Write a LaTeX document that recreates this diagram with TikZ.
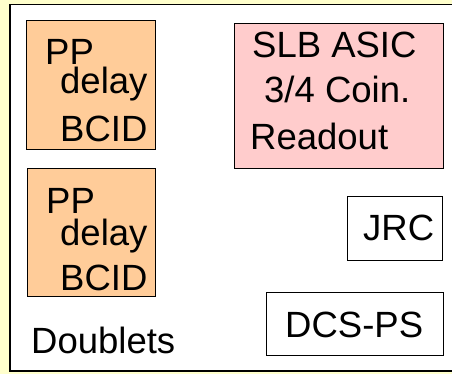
\documentclass[tikz,border=0pt]{standalone}
\usepackage{fontspec}
\setmainfont{Liberation Sans}
\definecolor{bgyellow}{HTML}{FFFFCC}
\definecolor{ppfill}{HTML}{FFCC99}
\definecolor{asicfill}{HTML}{FFCCCC}
\begin{document}
\begin{tikzpicture}[x=1pt,y=-1pt,
  panel/.style={draw=black, line width=1.6pt, fill=white},
  blockbox/.style={draw=black, line width=1.4pt, rectangle, inner sep=0pt, anchor=north west},
  lbl/.style={anchor=base west, inner sep=0pt, font=\fontsize{36.5}{40}\selectfont}]
  % background and clipped frame
  \fill[bgyellow] (0,0) rectangle (452,374);
  \useasboundingbox (0,0) rectangle (452,374);
  \begin{scope}
    \clip (0,0) rectangle (452,374);
    \draw[panel] (10,4.5) rectangle (470,371);
  \end{scope}

  % first PP block
  \node[blockbox, fill=ppfill, minimum width=129pt, minimum height=129pt] (ppa) at (26,20) {};
  \node[lbl] (ppa1) at (45,65) {PP};
  \node[lbl] (ppa2) at (60,94) {delay};
  \node[lbl] (ppa3) at (60,142) {BCID};

  % second PP block
  \node[blockbox, fill=ppfill, minimum width=128pt, minimum height=128pt] (ppb) at (27,168) {};
  \node[lbl] (ppb1) at (46,213) {PP};
  \node[lbl] (ppb2) at (60,245) {delay};
  \node[lbl] (ppb3) at (60,290) {BCID};

  \node[lbl] (dbl) at (31,353) {Doublets};

  % SLB ASIC block
  \node[blockbox, fill=asicfill, minimum width=209pt, minimum height=145pt] (asic) at (234,23) {};
  \node[lbl] (asic1) at (252,58) {SLB ASIC};
  \node[lbl] (asic2) at (264,103) {3/4 Coin.};
  \node[lbl] (asic3) at (250,150) {Readout};

  % JRC block
  \node[blockbox, fill=white, minimum width=95pt, minimum height=64pt] (jrc) at (347,196) {};
  \node[lbl] (jrc1) at (363,240) {JRC};

  % DCS-PS block
  \node[blockbox, fill=white, minimum width=177pt, minimum height=63pt] (dcs) at (266,292) {};
  \node[lbl] (dcs1) at (285,337) {DCS-PS};
\end{tikzpicture}
\end{document}
